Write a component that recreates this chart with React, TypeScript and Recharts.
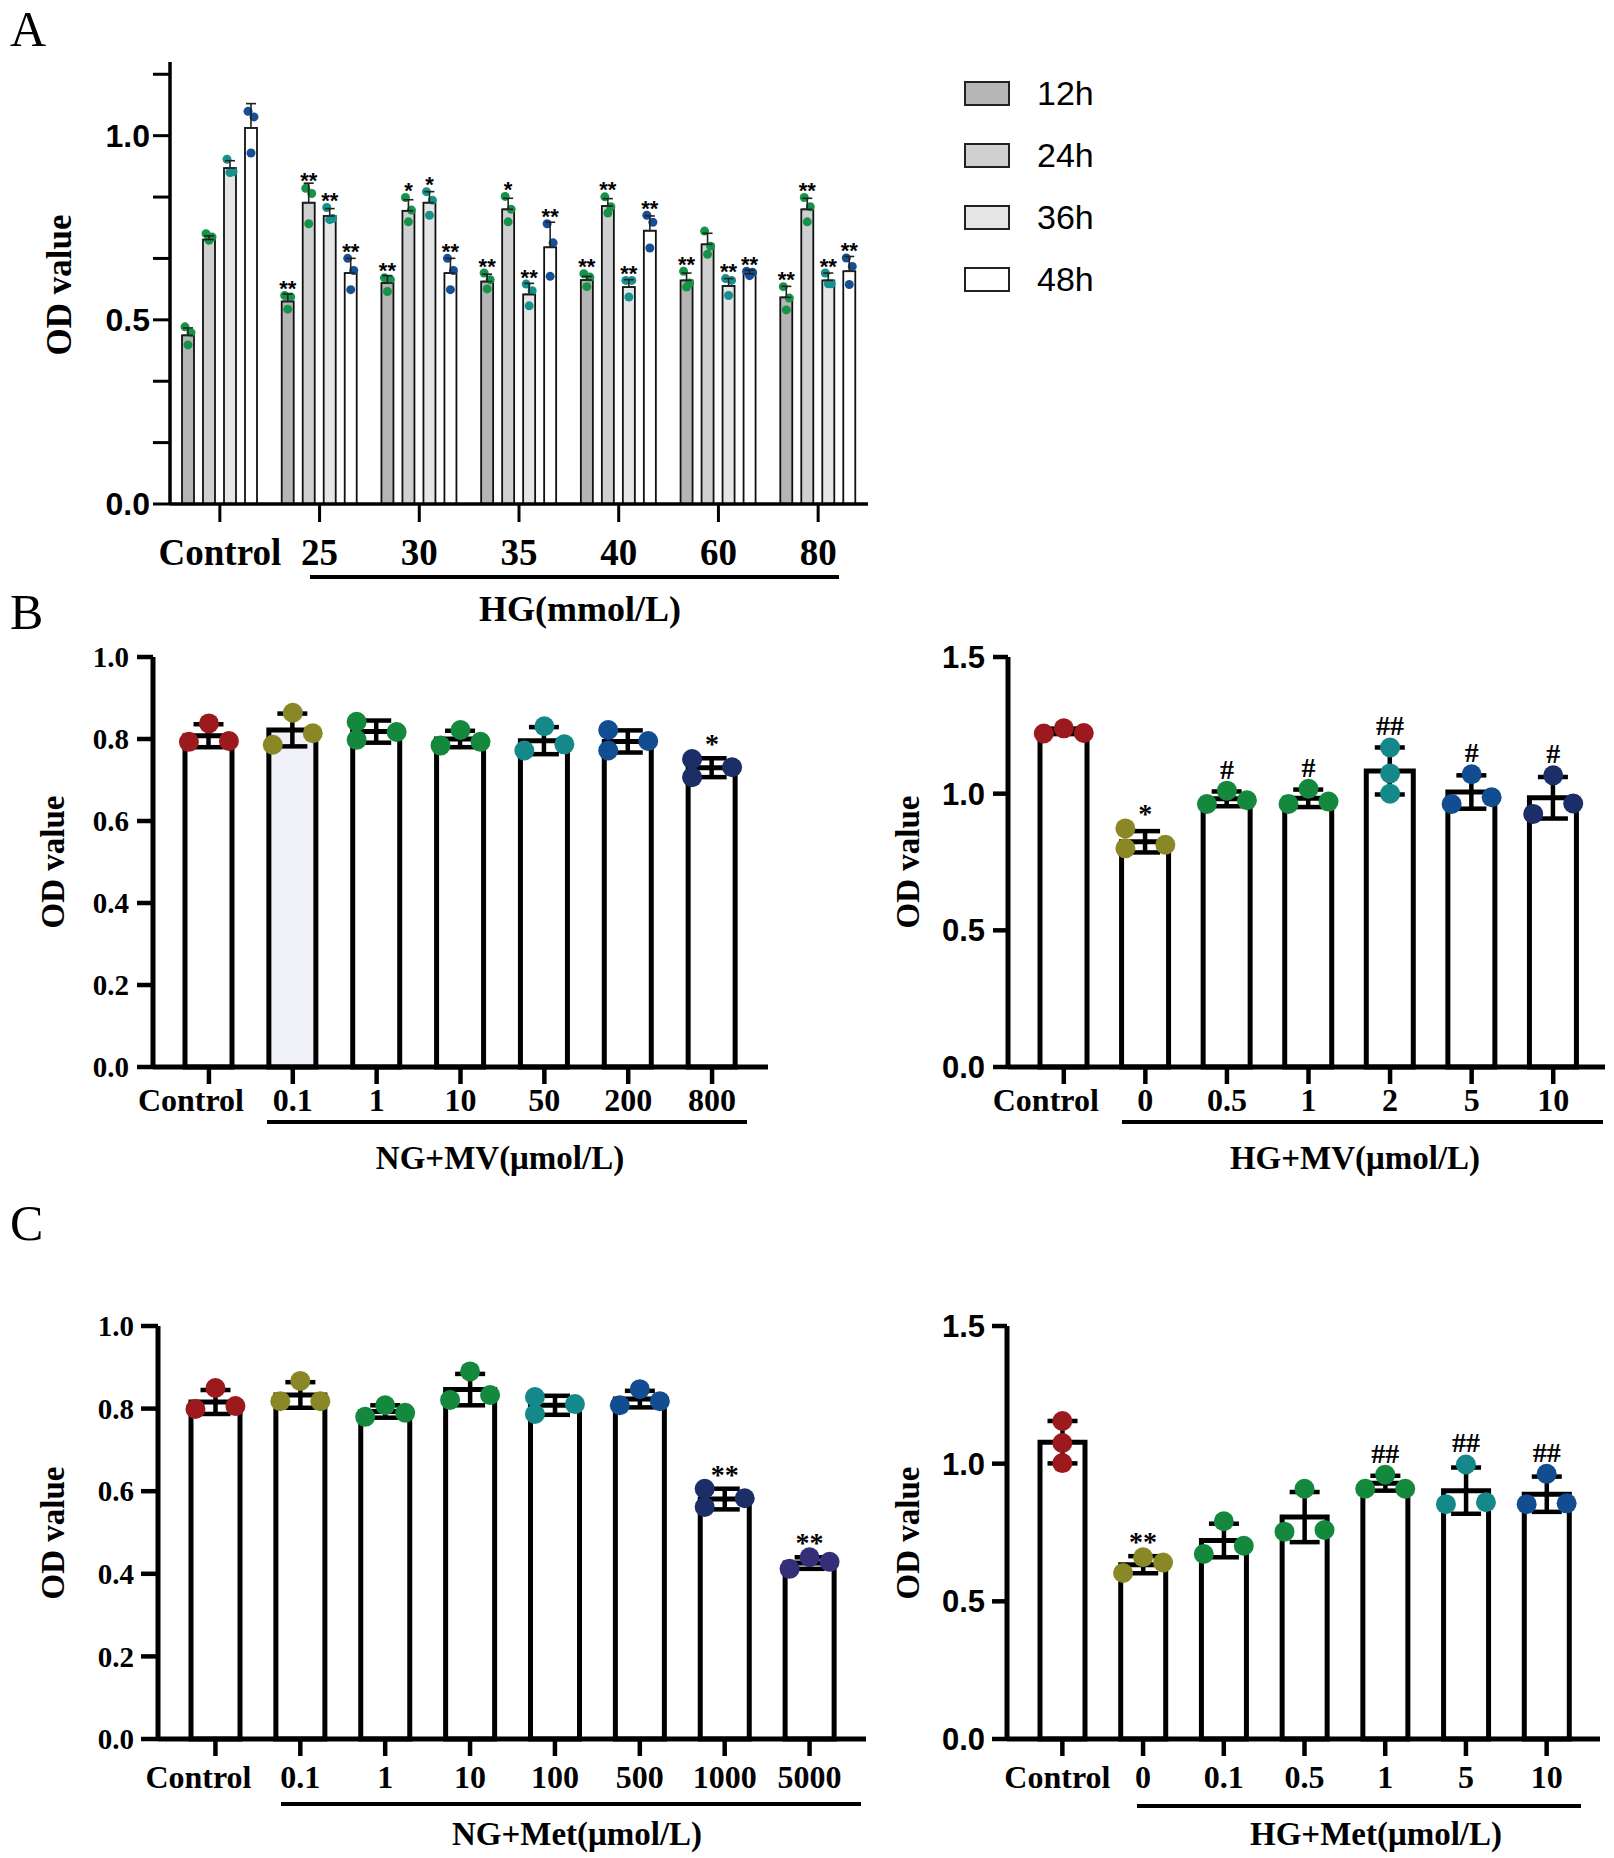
import React from "react";
import {
  BarChart,
  ComposedChart,
  Bar,
  Scatter,
  XAxis,
  YAxis,
  ErrorBar,
  Legend,
  Cell,
} from "recharts";

const SERIF = "'Liberation Serif', 'Times New Roman', serif";
const SANS = "'Liberation Sans', Arial, sans-serif";

// ---------- Panel A: OD value vs HG concentration, 4 time points ----------
const hgGroups = ["Control", "25", "30", "35", "40", "60", "80"];
const od12h = [0.458, 0.55, 0.6, 0.604, 0.608, 0.607, 0.561];
const od24h = [0.718, 0.818, 0.796, 0.8, 0.809, 0.705, 0.8];
const od36h = [0.912, 0.782, 0.818, 0.569, 0.589, 0.592, 0.607];
const od48h = [1.021, 0.627, 0.627, 0.697, 0.742, 0.625, 0.632];
const sd12h = [0.02, 0.02, 0.02, 0.02, 0.01, 0.02, 0.03];
const sd24h = [0.01, 0.053, 0.03, 0.03, 0.02, 0.03, 0.03];
const sd36h = [0.02, 0.02, 0.03, 0.03, 0.02, 0.02, 0.02];
const sd48h = [0.066, 0.04, 0.04, 0.068, 0.04, 0.01, 0.04];
const dots12h = [
  [0.481, 0.465, 0.432], [0.566, 0.562, 0.529], [0.614, 0.609, 0.577], [0.627, 0.609, 0.584],
  [0.625, 0.616, 0.59], [0.632, 0.6, 0.589], [0.59, 0.559, 0.527],
];
const dots24h = [
  [0.734, 0.725, 0.716], [0.857, 0.843, 0.761], [0.832, 0.798, 0.766], [0.835, 0.8, 0.766],
  [0.834, 0.807, 0.79], [0.741, 0.7, 0.678], [0.832, 0.807, 0.766],
];
const dots36h = [
  [0.936, 0.902, 0.9], [0.805, 0.775, 0.772], [0.848, 0.825, 0.784], [0.597, 0.579, 0.538],
  [0.607, 0.607, 0.562], [0.612, 0.607, 0.566], [0.627, 0.598, 0.598],
];
const dots48h = [
  [1.066, 1.051, 0.953], [0.667, 0.634, 0.582], [0.667, 0.634, 0.582], [0.761, 0.709, 0.618],
  [0.784, 0.765, 0.695], [0.632, 0.629, 0.62], [0.668, 0.645, 0.596],
];
const sig12h = ["", "**", "**", "**", "**", "**", "**"];
const sig24h = ["", "**", "*", "*", "**", "", "**"];
const sig36h = ["", "**", "*", "**", "**", "**", "**"];
const sig48h = ["", "**", "**", "**", "**", "**", "**"];
const panelATicks = [0, 0.1667, 0.3333, 0.5, 0.6667, 0.8333, 1, 1.1667];

// ---------- Panel B: MV ----------
const ngMvDoses = ["Control", "0.1", "1", "10", "50", "200", "800"];
const ngMvMean = [0.808, 0.822, 0.818, 0.8, 0.796, 0.794, 0.73];
const ngMvSd = [0.028, 0.04, 0.027, 0.02, 0.033, 0.027, 0.023];
const ngMvDots = [
  [0.793, 0.838, 0.795], [0.786, 0.864, 0.814], [0.842, 0.798, 0.817], [0.784, 0.822, 0.793],
  [0.772, 0.831, 0.787], [0.822, 0.772, 0.795], [0.751, 0.707, 0.731],
];
const ngMvSig = ["", "", "", "", "", "", "*"];

const hgMvDoses = ["Control", "0", "0.5", "1", "2", "5", "10"];
const hgMvMean = [1.228, 0.824, 0.981, 0.983, 1.083, 1.006, 0.985];
const hgMvSd = [0.01, 0.039, 0.027, 0.032, 0.086, 0.061, 0.076];
const hgMvDots = [
  [1.22, 1.239, 1.222], [0.873, 0.8, 0.813], [0.962, 1.011, 0.976], [0.962, 1.018, 0.971],
  [1.169, 1.074, 1.0], [0.962, 1.071, 0.987], [0.926, 1.067, 0.964],
];
const hgMvSig = ["", "*", "#", "#", "##", "#", "#"];

// ---------- Panel C: Met ----------
const ngMetDoses = ["Control", "0.1", "1", "10", "100", "500", "1000", "5000"];
const ngMetMean = [0.816, 0.833, 0.793, 0.846, 0.808, 0.823, 0.581, 0.426];
const ngMetSd = [0.029, 0.031, 0.015, 0.038, 0.023, 0.02, 0.025, 0.014];
const ngMetDots = [
  [0.799, 0.85, 0.806], [0.818, 0.867, 0.818], [0.78, 0.808, 0.79], [0.821, 0.89, 0.833],
  [0.828, 0.787, 0.811], [0.808, 0.847, 0.818], [0.606, 0.562, 0.583], [0.412, 0.44, 0.429],
];
const ngMetSig = ["", "", "", "", "", "", "**", "**"];

const hgMetDoses = ["Control", "0", "0.1", "0.5", "1", "5", "10"];
const hgMetMean = [1.078, 0.633, 0.721, 0.806, 0.929, 0.902, 0.889];
const hgMetSd = [0.077, 0.031, 0.061, 0.091, 0.027, 0.084, 0.064];
const hgMetDots = [
  [1.155, 1.075, 1.002], [0.603, 0.66, 0.641], [0.672, 0.791, 0.702], [0.753, 0.909, 0.759],
  [0.909, 0.96, 0.909], [0.853, 0.997, 0.86], [0.853, 0.963, 0.856],
];
const hgMetSig = ["", "**", "", "", "##", "##", "##"];

// colours / dot arrangement (style only)
const RED = "#9c1a1e";
const OLIVE = "#8a8826";
const GREEN = "#14893d";
const TEAL = "#15898a";
const BLUE = "#124c91";
const NAVY = "#1b2e68";
const PURPLE = "#352f7a";

const timeSeries = [
  { key: "h12", name: "12h", fill: "#b5b5b5", dot: "#179349" },
  { key: "h24", name: "24h", fill: "#d0d0d0", dot: "#179349" },
  { key: "h36", name: "36h", fill: "#e6e6e6", dot: "#17918c" },
  { key: "h48", name: "48h", fill: "#ffffff", dot: "#164f95" },
];
const jitterA = [-3, 3, 0];
const slotOffset: Record<string, number> = { L: -20, M: 0, R: 20 };

const panelAData = hgGroups.map((group, i) => ({
  group,
  h12: od12h[i],
  h24: od24h[i],
  h36: od36h[i],
  h48: od48h[i],
  h12Err: [0, sd12h[i]],
  h24Err: [0, sd24h[i]],
  h36Err: [0, sd36h[i]],
  h48Err: [0, sd48h[i]],
  h12Dots: dots12h[i],
  h24Dots: dots24h[i],
  h36Dots: dots36h[i],
  h48Dots: dots48h[i],
  h12Sig: sig12h[i],
  h24Sig: sig24h[i],
  h36Sig: sig36h[i],
  h48Sig: sig48h[i],
}));

// bar + its replicate dots + significance mark, all placed from the bar geometry
function makeTimeBar(key: string, fill: string, dotColor: string) {
  return (p: any) => {
    const { x, y, width, height, payload } = p;
    const mean = payload[key];
    if (!height || !mean) return <g />;
    const base = y + height;
    const perUnit = height / mean;
    const cx = x + width / 2;
    const dotYs = (payload[key + "Dots"] as number[]).map((d) => base - d * perUnit);
    const errTop = base - (mean + payload[key + "Err"][1]) * perUnit;
    const top = Math.min(errTop, ...dotYs.map((d) => d - 4.5));
    const sig = payload[key + "Sig"];
    return (
      <g>
        <rect x={x} y={y} width={width} height={height} fill={fill} stroke="#111" strokeWidth={1.8} />
        {dotYs.map((dy, j) => (
          <circle key={j} cx={cx + jitterA[j]} cy={dy} r={4.5} fill={dotColor} />
        ))}
        {sig ? (
          <text x={cx} y={top + 5} textAnchor="middle" fontFamily={SANS} fontWeight={700} fontSize={22}>
            {sig}
          </text>
        ) : null}
      </g>
    );
  };
}

const renderLegendA = (props: any) => (
  <div>
    {(props.payload || []).map((entry: any) => (
      <div key={entry.value} style={{ display: "flex", alignItems: "center", height: 62 }}>
        <div
          style={{
            width: 42,
            height: 21,
            background: entry.color,
            border: "2.5px solid #222",
          }}
        />
        <span style={{ marginLeft: 27, fontFamily: SANS, fontSize: 34, color: "#000" }}>{entry.value}</span>
      </div>
    ))}
  </div>
);

// x tick label; the first ("Control") label is nudged like in the original figure
function makeXTick(firstShift: number, fontSize: number) {
  return (p: any) => {
    const { x, y, payload } = p;
    const dx = payload.index === 0 ? firstShift : 0;
    return (
      <text
        x={x + dx}
        y={y}
        dy="0.71em"
        textAnchor="middle"
        fontFamily={SERIF}
        fontWeight={700}
        fontSize={fontSize}
        fill="#000"
      >
        {payload.value}
      </text>
    );
  };
}

function PanelA() {
  return (
    <div style={{ position: "absolute", left: 0, top: 0 }}>
      <BarChart
        width={1614}
        height={640}
        data={panelAData}
        margin={{ top: 62, right: 746, bottom: 76, left: 0 }}
        barSize={12}
        barGap={9}
      >
        <XAxis
          dataKey="group"
          interval={0}
          height={60}
          tickSize={18}
          tickMargin={17}
          axisLine={{ stroke: "#000", strokeWidth: 3.5 }}
          tickLine={{ stroke: "#000", strokeWidth: 3 }}
          tick={makeXTick(0, 37)}
        />
        <YAxis
          width={170}
          domain={[0, 1.2]}
          ticks={panelATicks}
          interval={0}
          tickFormatter={(v: number) =>
            [0, 0.5, 1].some((t) => Math.abs(t - v) < 1e-6) ? v.toFixed(1) : ""
          }
          tickSize={17}
          tickMargin={3}
          axisLine={{ stroke: "#000", strokeWidth: 3.5 }}
          tickLine={{ stroke: "#000", strokeWidth: 3 }}
          tick={{ fontFamily: SANS, fontWeight: 700, fontSize: 32, fill: "#000" }}
        />
        <Legend
          layout="horizontal"
          verticalAlign="middle"
          align="center"
          content={renderLegendA}
          wrapperStyle={{ left: 964, top: 62, width: 220, height: 260 }}
        />
        {timeSeries.map((s) => (
          <Bar
            key={s.key}
            dataKey={s.key}
            name={s.name}
            fill={s.fill}
            isAnimationActive={false}
            shape={makeTimeBar(s.key, s.fill, s.dot)}
          >
            <ErrorBar dataKey={s.key + "Err"} width={5} strokeWidth={1.6} stroke="#222" />
          </Bar>
        ))}
      </BarChart>
    </div>
  );
}

type DoseProps = {
  left: number;
  top: number;
  width: number;
  height: number;
  margin: { top: number; right: number; bottom: number; left: number };
  yWidth: number;
  yMax: number;
  yTicks: number[];
  yFont: string;
  yTickSize: number;
  yTickMargin: number;
  xTickMargin: number;
  firstShift: number;
  pad: { left: number; right: number };
  barSize: number;
  doses: string[];
  mean: number[];
  sd: number[];
  dots: number[][];
  sig: string[];
  colors: string[];
  layouts: string[];
  fills: string[];
};

function makeDot(slot: number, layouts: string[], colors: string[]) {
  return (p: any) => {
    const i = p.payload.idx;
    const dx = slotOffset[layouts[i][slot]];
    return <circle cx={p.cx + dx} cy={p.cy} r={10} fill={colors[i]} />;
  };
}

const sigMark = (p: any) => {
  const s = p.payload.sig;
  if (!s) return <g />;
  const shift = s[0] === "*" ? -5 : -12;
  return (
    <text x={p.cx} y={p.cy + shift} textAnchor="middle" fontFamily={SERIF} fontWeight={700} fontSize={28}>
      {s}
    </text>
  );
};

function DosePanel(d: DoseProps) {
  const rows = d.doses.map((dose, i) => ({
    dose,
    idx: i,
    mean: d.mean[i],
    sd: d.sd[i],
    d0: d.dots[i][0],
    d1: d.dots[i][1],
    d2: d.dots[i][2],
    sig: d.sig[i],
    top: Math.max(...d.dots[i], d.mean[i] + d.sd[i]),
  }));
  return (
    <div style={{ position: "absolute", left: d.left, top: d.top }}>
      <ComposedChart width={d.width} height={d.height} data={rows} margin={d.margin}>
        <XAxis
          dataKey="dose"
          interval={0}
          height={50}
          padding={d.pad}
          tickSize={17}
          tickMargin={d.xTickMargin}
          axisLine={{ stroke: "#000", strokeWidth: 5 }}
          tickLine={{ stroke: "#000", strokeWidth: 4.5 }}
          tick={makeXTick(d.firstShift, 32)}
        />
        <YAxis
          width={d.yWidth}
          domain={[0, d.yMax]}
          ticks={d.yTicks}
          interval={0}
          tickFormatter={(v: number) => v.toFixed(1)}
          tickSize={d.yTickSize}
          tickMargin={d.yTickMargin}
          axisLine={{ stroke: "#000", strokeWidth: 5 }}
          tickLine={{ stroke: "#000", strokeWidth: 4.5 }}
          tick={{ fontFamily: d.yFont, fontWeight: 700, fontSize: d.yFont === SERIF ? 29 : 31, fill: "#000" }}
        />
        <Bar dataKey="mean" barSize={d.barSize} fill="#fff" stroke="#000" strokeWidth={5} isAnimationActive={false}>
          {rows.map((r) => (
            <Cell key={r.dose} fill={d.fills[r.idx]} />
          ))}
          <ErrorBar dataKey="sd" width={15} strokeWidth={4.5} stroke="#000" />
        </Bar>
        <Scatter dataKey="d0" isAnimationActive={false} shape={makeDot(0, d.layouts, d.colors)} />
        <Scatter dataKey="d1" isAnimationActive={false} shape={makeDot(1, d.layouts, d.colors)} />
        <Scatter dataKey="d2" isAnimationActive={false} shape={makeDot(2, d.layouts, d.colors)} />
        <Scatter dataKey="top" isAnimationActive={false} shape={sigMark} />
      </ComposedChart>
    </div>
  );
}

const Txt = ({
  x,
  y,
  size,
  family = SERIF,
  weight = 700,
  rotate = false,
  children,
}: {
  x: number;
  y: number;
  size: number;
  family?: string;
  weight?: number;
  rotate?: boolean;
  children: React.ReactNode;
}) => (
  <div
    style={{
      position: "absolute",
      left: x,
      top: y,
      transform: `translate(-50%, -50%)${rotate ? " rotate(-90deg)" : ""}`,
      fontFamily: family,
      fontWeight: weight,
      fontSize: size,
      lineHeight: 1,
      whiteSpace: "nowrap",
      color: "#000",
    }}
  >
    {children}
  </div>
);

const Rule = ({ x1, x2, y }: { x1: number; x2: number; y: number }) => (
  <div style={{ position: "absolute", left: x1, top: y - 2, width: x2 - x1, height: 4, background: "#000" }} />
);

const Letter = ({ y, children }: { y: number; children: React.ReactNode }) => (
  <div
    style={{
      position: "absolute",
      left: 10,
      top: y,
      fontFamily: SERIF,
      fontSize: 50,
      lineHeight: 1,
      color: "#000",
    }}
  >
    {children}
  </div>
);

export default function App() {
  return (
    <div style={{ position: "relative", width: 1614, height: 1858, background: "#fff", overflow: "hidden" }}>
      <style>{"body{margin:0}"}</style>

      <Letter y={4}>A</Letter>
      <Letter y={587}>B</Letter>
      <Letter y={1198}>C</Letter>

      <PanelA />
      <Txt x={59} y={285} size={35} rotate>
        OD value
      </Txt>
      <Rule x1={310} x2={839} y={577} />
      <Txt x={580} y={609} size={36}>
        HG(mmol/L)
      </Txt>

      <DosePanel
        left={0}
        top={600}
        width={800}
        height={560}
        margin={{ top: 57, right: 32, bottom: 43, left: 0 }}
        yWidth={153}
        yMax={1}
        yTicks={[0, 0.2, 0.4, 0.6, 0.8, 1]}
        yFont={SERIF}
        yTickSize={16}
        yTickMargin={8}
        xTickMargin={4}
        firstShift={-18}
        pad={{ left: 14, right: 14 }}
        barSize={47}
        doses={ngMvDoses}
        mean={ngMvMean}
        sd={ngMvSd}
        dots={ngMvDots}
        sig={ngMvSig}
        colors={[RED, OLIVE, GREEN, GREEN, TEAL, BLUE, NAVY]}
        layouts={["LMR", "LMR", "LLR", "LMR", "LMR", "LLR", "LLR"]}
        fills={["#fff", "#eff0f8", "#fff", "#fff", "#fff", "#fff", "#fff"]}
      />
      <Txt x={53} y={862} size={33} rotate>
        OD value
      </Txt>
      <Rule x1={267} x2={747} y={1122} />
      <Txt x={500} y={1158} size={33}>
        NG+MV(μmol/L)
      </Txt>

      <DosePanel
        left={800}
        top={600}
        width={814}
        height={560}
        margin={{ top: 57, right: 9, bottom: 43, left: 0 }}
        yWidth={208}
        yMax={1.5}
        yTicks={[0, 0.5, 1, 1.5]}
        yFont={SANS}
        yTickSize={15}
        yTickMargin={8}
        xTickMargin={4}
        firstShift={-18}
        pad={{ left: 15, right: 11 }}
        barSize={47}
        doses={hgMvDoses}
        mean={hgMvMean}
        sd={hgMvSd}
        dots={hgMvDots}
        sig={hgMvSig}
        colors={[RED, OLIVE, GREEN, GREEN, TEAL, BLUE, NAVY]}
        layouts={["LMR", "LLR", "LMR", "LMR", "MMM", "LMR", "LMR"]}
        fills={["#fff", "#fff", "#fff", "#fff", "#fff", "#fff", "#fff"]}
      />
      <Txt x={908} y={862} size={33} rotate>
        OD value
      </Txt>
      <Rule x1={1122} x2={1603} y={1122} />
      <Txt x={1355} y={1158} size={33}>
        HG+MV(μmol/L)
      </Txt>

      <DosePanel
        left={0}
        top={1260}
        width={880}
        height={598}
        margin={{ top: 66, right: 14, bottom: 69, left: 0 }}
        yWidth={158}
        yMax={1}
        yTicks={[0, 0.2, 0.4, 0.6, 0.8, 1]}
        yFont={SERIF}
        yTickSize={17}
        yTickMargin={7}
        xTickMargin={9}
        firstShift={-17}
        pad={{ left: 15, right: 14 }}
        barSize={49}
        doses={ngMetDoses}
        mean={ngMetMean}
        sd={ngMetSd}
        dots={ngMetDots}
        sig={ngMetSig}
        colors={[RED, OLIVE, GREEN, GREEN, TEAL, BLUE, NAVY, PURPLE]}
        layouts={["LMR", "LMR", "LMR", "LMR", "LLR", "LMR", "LLR", "LMR"]}
        fills={["#fff", "#fff", "#fff", "#fff", "#fff", "#fff", "#fff", "#fff"]}
      />
      <Txt x={53} y={1533} size={33} rotate>
        OD value
      </Txt>
      <Rule x1={281} x2={861} y={1804} />
      <Txt x={577} y={1834} size={33}>
        NG+Met(μmol/L)
      </Txt>

      <DosePanel
        left={880}
        top={1260}
        width={734}
        height={598}
        margin={{ top: 66, right: 14, bottom: 69, left: 0 }}
        yWidth={127}
        yMax={1.5}
        yTicks={[0, 0.5, 1, 1.5]}
        yFont={SANS}
        yTickSize={15}
        yTickMargin={7}
        xTickMargin={9}
        firstShift={-5}
        pad={{ left: 15, right: 13 }}
        barSize={45}
        doses={hgMetDoses}
        mean={hgMetMean}
        sd={hgMetSd}
        dots={hgMetDots}
        sig={hgMetSig}
        colors={[RED, OLIVE, GREEN, GREEN, GREEN, TEAL, BLUE]}
        layouts={["MMM", "LMR", "LMR", "LMR", "LMR", "LMR", "LMR"]}
        fills={["#fff", "#fff", "#fff", "#fff", "#fff", "#fff", "#fff"]}
      />
      <Txt x={908} y={1533} size={33} rotate>
        OD value
      </Txt>
      <Rule x1={1137} x2={1581} y={1806} />
      <Txt x={1376} y={1834} size={33}>
        HG+Met(μmol/L)
      </Txt>
    </div>
  );
}
